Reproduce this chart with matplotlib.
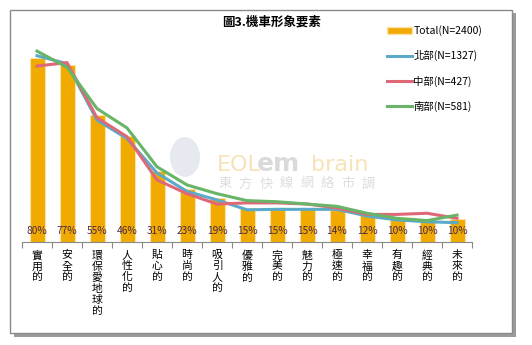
import matplotlib.pyplot as plt
from matplotlib.patches import Rectangle, Patch, Ellipse
from matplotlib.lines import Line2D

plt.rcParams['font.family'] = ['Noto Sans CJK TC', 'DejaVu Sans']

categories = ['實用的', '安全的', '環保愛地球的', '人性化的', '貼心的', '時尚的', '吸引人的',
              '優雅的', '完美的', '魅力的', '極速的', '幸福的', '有趣的', '經典的', '未來的']
total = [80, 77, 55, 46, 31, 23, 19, 15, 15, 15, 14, 12, 10, 10, 10]
north = [81, 77.5, 53, 45, 30, 22, 18.3, 14, 14.2, 14.2, 14.2, 11.3, 9.6, 8.8, 8.4]
central = [76.5, 78, 54, 45.8, 27, 21, 16.5, 17, 17, 16.5, 14.8, 12, 12, 12.5, 10.3]
south = [83, 76, 58, 49.6, 32.7, 24.8, 21, 18, 17.5, 16.5, 15.5, 12.5, 10.3, 9.3, 11.7]

c_bar = '#F0AA00'
c_north = '#5AAAC8'
c_central = '#DE6878'
c_south = '#68B468'

W, H = 532, 345
fig = plt.figure(figsize=(5.32, 3.45), dpi=100)

# frame with shadow
fig.patches.append(Rectangle((14 / W, 8 / H), 502 / W, 324 / H, transform=fig.transFigure,
                             facecolor='#9a9a9a', edgecolor='none', zorder=-2))
fig.patches.append(Rectangle((10 / W, 12 / H), 502 / W, 323 / H, transform=fig.transFigure,
                             facecolor='white', edgecolor='#8a8a8a', linewidth=1, zorder=-1))

# watermark
fig.patches.append(Ellipse((185 / W, 1 - 157 / H), 30 / W, 40 / H, transform=fig.transFigure,
                           facecolor='#E6E9EF', edgecolor='none', zorder=0))
fig.text(217 / W, 1 - 171 / H, 'EOL', fontsize=16, color='#F8E2B8', family='DejaVu Sans',
         ha='left', va='baseline', zorder=1)
fig.text(257 / W, 1 - 171 / H, 'em', fontsize=18, color='#DADADA', family='DejaVu Sans',
         fontweight='heavy', ha='left', va='baseline', zorder=1)
fig.text(311 / W, 1 - 171 / H, 'brain', fontsize=16, color='#F8E2B8', family='DejaVu Sans',
         ha='left', va='baseline', zorder=1)
for k, ch in enumerate('東方快線網絡市調'):
    fig.text((225 + k * 20.5) / W, 1 - 184 / H, ch, fontsize=9.5, color='#DDDDDD',
             ha='center', va='center', zorder=1)

ax = fig.add_axes([22 / W, 103 / H, 450 / W, 207 / H], zorder=2)
ax.set_facecolor('none')
x = list(range(len(categories)))
ax.bar(x, total, width=0.5, color=c_bar, edgecolor='#FBE3A8', linewidth=0.8, zorder=2)
ax.plot(x, north, color=c_north, lw=2.2, zorder=3)
ax.plot(x, central, color=c_central, lw=2.2, zorder=3)
ax.plot(x, south, color=c_south, lw=2.2, zorder=4)

for i, v in enumerate(total):
    ax.text(i, 5, f'{v}%', ha='center', va='center', fontsize=7.3, color='#4a2848', zorder=5)

ax.set_xlim(-0.5, len(categories) - 0.5)
ax.set_ylim(0, 90)
ax.set_yticks([])
for s in ['left', 'right', 'top']:
    ax.spines[s].set_visible(False)
ax.spines['bottom'].set_color('#888888')
ax.set_xticks([i - 0.5 for i in range(len(categories) + 1)])
ax.set_xticklabels([])
ax.tick_params(axis='x', length=4, color='#888888')

for i, c in enumerate(categories):
    ax.text(i, -3.5, '\n'.join(c), ha='center', va='top', fontsize=7.8, linespacing=1.12,
            clip_on=False)

fig.text(272 / W, 1 - 22 / H, '圖3.機車形象要素', fontsize=9, fontweight='bold', ha='center', va='center')

handles = [Patch(facecolor=c_bar, edgecolor='#FBE3A8'),
           Line2D([], [], color=c_north, lw=2.2),
           Line2D([], [], color=c_central, lw=2.2),
           Line2D([], [], color=c_south, lw=2.2)]
labels = ['Total(N=2400)', '北部(N=1327)', '中部(N=427)', '南部(N=581)']
fig.legend(handles, labels, loc='upper left', bbox_to_anchor=(378 / W, 1 - 16 / H),
           frameon=False, fontsize=7.5, handlelength=2.4, handleheight=0.6,
           handletextpad=0.1, labelspacing=1.35)

fig.savefig('out.png', dpi=100)
